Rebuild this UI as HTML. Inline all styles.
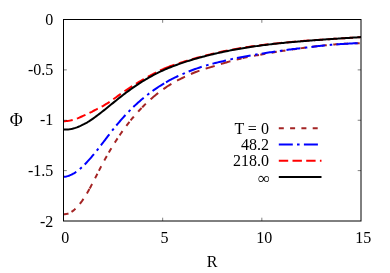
<!DOCTYPE html>
<html><head><meta charset="utf-8"><style>
html,body{margin:0;padding:0;background:#fff;}
svg{display:block;will-change:transform;}
text{font-family:"Liberation Serif",serif;font-size:16px;fill:#000;}
</style></head><body>
<svg width="390" height="273" viewBox="0 0 390 273">
<rect width="390" height="273" fill="#fff"/>
<g fill="none" stroke-width="2" stroke-linecap="butt" stroke-linejoin="round">
<path d="M63.50,214.26L64.77,214.26L66.04,214.11L67.28,213.83L68.49,213.43M71.50,211.89L72.56,211.19L73.57,210.41L74.54,209.59L75.50,208.74M79.85,203.92L80.60,202.94L81.35,201.96L82.07,200.96L82.78,199.95L83.47,198.93M86.92,193.42L87.57,192.32L88.20,191.21L88.83,190.11L89.44,188.99M89.70,188.52L90.31,187.40L90.91,186.28L91.51,185.15L92.11,184.03M95.09,178.25L95.67,177.11L96.25,175.98L96.83,174.84L97.40,173.70M98.90,170.77L99.48,169.64L100.07,168.50L100.65,167.37L101.24,166.24M104.31,160.51L104.92,159.39L105.54,158.27L106.16,157.16L106.78,156.05M108.80,152.54L109.44,151.43L110.09,150.34L110.74,149.24L111.40,148.15M114.82,142.62L115.50,141.54L116.19,140.47L116.89,139.40L117.59,138.34M119.60,135.34L120.32,134.29L121.05,133.24L121.77,132.19L122.51,131.15M126.35,125.91L127.12,124.90L127.90,123.88L128.68,122.88L129.47,121.88M130.60,120.46L131.41,119.48L132.21,118.49L133.03,117.51L133.85,116.54M138.14,111.66L139.01,110.72L139.88,109.78L140.75,108.86L141.63,107.94M142.20,107.36L143.09,106.44L143.99,105.54L144.90,104.65L145.81,103.76M150.58,99.34L151.64,98.40L152.71,97.48L153.78,96.57L154.86,95.66L155.96,94.77L157.06,93.89L158.17,93.01M163.38,89.13L164.50,88.34L165.63,87.56L166.77,86.79L167.92,86.03L169.07,85.29L170.23,84.55L171.40,83.83M177.06,80.64L178.37,79.96L179.69,79.30L181.01,78.64L182.33,77.99L183.66,77.35L184.99,76.71M190.91,74.03L192.12,73.52L193.33,73.01L194.55,72.52L195.77,72.03L197.00,71.56L198.23,71.09L199.46,70.63M205.65,68.64L206.94,68.27L208.23,67.90L209.53,67.53L210.82,67.15L212.11,66.76L213.39,66.36L214.68,65.97M220.89,64.05L222.24,63.63L223.60,63.23L224.96,62.82L226.32,62.43L227.68,62.04L229.04,61.66L230.41,61.29M236.69,59.62L237.93,59.31L239.16,58.99L240.40,58.69L241.64,58.38M242.60,58.16L243.84,57.87L245.09,57.59L246.33,57.32L247.58,57.06M253.97,55.84L255.22,55.62L256.48,55.39L257.73,55.16L258.98,54.93M260.30,54.69L261.55,54.46L262.81,54.23L264.06,54.00L265.32,53.77M271.72,52.65L272.98,52.44L274.23,52.23L275.49,52.02L276.75,51.81M280.40,51.23L281.66,51.03L282.92,50.83L284.18,50.64L285.44,50.44M291.87,49.49L293.13,49.31L294.39,49.14L295.66,48.96L296.92,48.78M300.50,48.30L301.76,48.13L303.03,47.96L304.29,47.79L305.56,47.63M312.00,46.79L313.27,46.64L314.53,46.48L315.80,46.33L317.06,46.18M321.70,45.65L322.97,45.51L324.24,45.38L325.50,45.25L326.77,45.13M333.25,44.57L334.52,44.47L335.79,44.37L337.06,44.28L338.33,44.19M343.00,43.88L344.27,43.81L345.55,43.74L346.82,43.67L348.09,43.60M354.59,43.32L355.86,43.27L357.13,43.23L358.41,43.20L359.68,43.16" stroke="#a42424"/>
<path d="M63.50,176.79L64.89,176.67L66.26,176.45L67.61,176.12L68.93,175.70L70.23,175.19L71.49,174.62L72.73,173.99L73.94,173.30L75.11,172.56L76.26,171.77M79.82,169.02L80.80,168.17L81.76,167.30M84.72,164.46L85.69,163.47L86.65,162.46L87.60,161.44L88.53,160.41L89.46,159.38L90.38,158.33L91.28,157.28L92.18,156.22L93.07,155.15L93.96,154.08M96.79,150.58L97.59,149.56L98.40,148.54M100.92,145.30L101.76,144.20L102.61,143.10L103.46,142.00L104.30,140.89L105.15,139.79L105.99,138.69L106.83,137.58L107.68,136.48L108.53,135.38L109.38,134.27M112.14,130.72L112.94,129.70L113.75,128.68M116.33,125.49L117.21,124.42L118.10,123.35L119.00,122.29L119.90,121.24L120.81,120.19L121.73,119.14L122.65,118.10L123.58,117.07L124.52,116.04L125.46,115.02M128.56,111.76L129.47,110.83L130.39,109.91M133.31,107.03L134.32,106.08L135.33,105.12L136.35,104.18L137.38,103.24L138.41,102.31L139.45,101.39L140.50,100.48L141.56,99.58L142.62,98.68L143.69,97.79M147.20,94.98L148.23,94.18L149.26,93.40M152.57,90.96L153.70,90.16L154.84,89.36L155.98,88.58L157.14,87.80L158.30,87.03L159.46,86.27L160.63,85.53L161.81,84.79L163.00,84.06L164.19,83.34M166.00,82.28L167.21,81.58L168.42,80.90L169.63,80.23L170.86,79.57L172.09,78.93L173.33,78.30L174.58,77.69L175.83,77.09L177.10,76.51L178.36,75.94M182.49,74.14L183.68,73.63L184.88,73.11M188.66,71.54L189.95,71.03L191.25,70.52L192.55,70.02L193.85,69.54L195.15,69.06L196.46,68.59L197.78,68.13L199.09,67.68L200.41,67.24L201.73,66.81M206.04,65.50L207.29,65.15L208.54,64.80M212.50,63.75L213.85,63.40L215.20,63.07L216.55,62.73L217.90,62.40L219.25,62.08L220.60,61.75L221.95,61.42L223.30,61.10L224.65,60.77L226.00,60.45M230.38,59.42L231.65,59.13L232.92,58.85M236.93,57.99L238.29,57.72L239.66,57.46L241.03,57.20L242.39,56.95L243.76,56.71L245.13,56.46L246.50,56.22L247.87,55.98L249.24,55.75L250.61,55.51M255.04,54.76L256.33,54.54L257.61,54.33M261.65,53.67L263.03,53.44L264.40,53.22L265.77,53.01L267.14,52.79L268.52,52.57L269.89,52.36L271.27,52.15L272.64,51.94L274.01,51.73L275.39,51.53M279.84,50.87L281.13,50.69L282.41,50.51M286.48,49.96L287.86,49.78L289.24,49.61L290.61,49.43L291.99,49.26L293.37,49.09L294.75,48.92L296.13,48.76L297.51,48.59L298.89,48.42L300.27,48.25M304.74,47.71L306.03,47.55L307.32,47.39M311.39,46.90L312.77,46.74L314.15,46.57L315.53,46.41L316.91,46.26L318.29,46.10L319.68,45.95L321.06,45.80L322.44,45.65L323.82,45.51L325.21,45.37M329.69,44.96L330.98,44.85L332.28,44.74M336.37,44.42L337.79,44.31L339.21,44.21L340.63,44.11L342.06,44.01L343.48,43.92L344.91,43.83L346.33,43.74L347.75,43.66L349.18,43.58L350.60,43.50L352.03,43.43L353.45,43.37L354.88,43.30L356.31,43.24L357.73,43.19" stroke="#0000ff"/>
<path d="M63.50,121.16L64.83,121.14L66.15,121.07L67.48,120.93L68.79,120.75L70.10,120.52L71.40,120.24L72.69,119.92M76.92,118.56L78.16,118.08L79.39,117.57L80.61,117.04L81.82,116.49L83.03,115.95L84.24,115.41L85.46,114.86M89.48,112.97L90.67,112.38L91.86,111.78L93.02,111.14L94.19,110.50L95.36,109.87L96.55,109.29L97.75,108.72M101.70,106.66L102.85,106.01L104.01,105.35L105.15,104.67L106.29,103.98L107.41,103.28L108.53,102.56L109.63,101.82M113.28,99.27L114.36,98.49L115.43,97.72L116.51,96.94L117.59,96.16L118.67,95.38L119.75,94.61L120.83,93.84M124.48,91.29L125.57,90.54L126.67,89.80L127.78,89.05L128.88,88.32L129.99,87.58L131.10,86.85L132.21,86.12M135.97,83.75L137.10,83.05L138.24,82.36L139.38,81.68L140.52,81.00L141.67,80.33L142.82,79.67L143.97,79.01M147.85,76.83L149.01,76.18L150.18,75.54L151.35,74.91L152.52,74.28L153.69,73.66L154.87,73.05L156.05,72.44M160.05,70.48L161.33,69.88L162.62,69.29L163.92,68.71L165.22,68.15L166.53,67.61L167.85,67.08L169.17,66.56L170.49,66.06L171.83,65.59L173.17,65.13L174.52,64.69M178.77,63.35L180.03,62.95L181.30,62.54L182.56,62.13L183.82,61.72L185.09,61.32L186.36,60.92L187.63,60.53M191.89,59.26L193.17,58.89L194.44,58.52L195.72,58.17L197.00,57.81L198.29,57.46L199.57,57.11L200.85,56.77M205.16,55.65L206.44,55.32L207.73,54.99L209.02,54.67L210.31,54.35L211.60,54.04L212.89,53.73L214.19,53.42M218.52,52.42L219.82,52.13L221.12,51.84L222.41,51.56L223.71,51.28L225.01,51.01L226.32,50.74L227.62,50.48M231.99,49.63L233.29,49.39L234.60,49.15L235.91,48.91L237.22,48.68L238.52,48.46L239.83,48.23L241.14,48.01M245.54,47.31L246.85,47.11L248.17,46.91L249.48,46.72L250.79,46.53L252.11,46.34L253.43,46.16L254.74,45.98M259.16,45.40L260.47,45.24L261.79,45.08L263.11,44.92L264.43,44.76L265.75,44.61L267.07,44.45L268.39,44.30M272.81,43.81L274.13,43.67L275.45,43.52L276.77,43.38L278.10,43.24L279.42,43.10L280.74,42.97L282.06,42.83M286.49,42.39L287.81,42.26L289.13,42.14L290.46,42.02L291.78,41.90L293.10,41.78L294.43,41.66L295.75,41.54M300.18,41.17L301.51,41.06L302.83,40.96L304.16,40.86L305.48,40.76L306.81,40.66L308.13,40.57L309.46,40.47M313.90,40.17L315.22,40.09L316.55,40.00L317.88,39.92L319.20,39.83L320.53,39.75L321.85,39.66L323.18,39.58M327.62,39.29L328.94,39.20L330.27,39.11L331.60,39.02L332.92,38.93L334.25,38.84L335.57,38.75L336.90,38.67M341.34,38.38L342.81,38.29L344.29,38.20L345.76,38.10L347.24,38.01L348.71,37.91L350.18,37.82L351.66,37.73L353.13,37.63M357.57,37.34L358.71,37.27L359.86,37.19L361.00,37.12" stroke="#ff0000"/>
<path d="M63.50,129.46 L64.99,129.52 L66.49,129.50 L67.98,129.40 L69.48,129.23 L70.97,128.98 L72.47,128.67 L73.96,128.28 L75.46,127.84 L76.95,127.33 L78.45,126.76 L79.94,126.13 L81.44,125.45 L82.93,124.72 L84.43,123.95 L85.92,123.13 L87.42,122.26 L88.91,121.35 L90.41,120.38 L91.90,119.37 L93.40,118.33 L94.89,117.25 L96.39,116.15 L97.88,115.02 L99.38,113.88 L100.87,112.72 L102.37,111.55 L103.86,110.36 L105.36,109.16 L106.85,107.96 L108.35,106.75 L109.84,105.54 L111.34,104.32 L112.83,103.11 L114.33,101.89 L115.82,100.69 L117.32,99.49 L118.81,98.30 L120.31,97.12 L121.80,95.95 L123.30,94.80 L124.79,93.66 L126.29,92.53 L127.78,91.42 L129.28,90.33 L130.77,89.25 L132.27,88.19 L133.76,87.15 L135.26,86.12 L136.75,85.11 L138.25,84.12 L139.74,83.16 L141.24,82.21 L142.73,81.27 L144.23,80.36 L145.72,79.46 L147.22,78.58 L148.71,77.72 L150.21,76.87 L151.70,76.05 L153.20,75.24 L154.69,74.45 L156.19,73.68 L157.68,72.92 L159.18,72.19 L160.67,71.46 L162.17,70.76 L163.66,70.09 L165.16,69.43 L166.65,68.78 L168.15,68.16 L169.64,67.55 L171.14,66.96 L172.63,66.38 L174.13,65.81 L175.62,65.26 L177.12,64.71 L178.61,64.17 L180.11,63.64 L181.60,63.12 L183.10,62.61 L184.59,62.11 L186.09,61.63 L187.58,61.15 L189.08,60.68 L190.57,60.22 L192.07,59.77 L193.56,59.32 L195.06,58.89 L196.55,58.46 L198.05,58.04 L199.54,57.62 L201.04,57.21 L202.53,56.81 L204.03,56.42 L205.52,56.03 L207.02,55.65 L208.51,55.27 L210.01,54.90 L211.50,54.54 L213.00,54.18 L214.49,53.83 L215.99,53.48 L217.48,53.14 L218.98,52.81 L220.47,52.48 L221.97,52.16 L223.46,51.84 L224.96,51.53 L226.45,51.22 L227.95,50.92 L229.44,50.62 L230.94,50.33 L232.43,50.05 L233.93,49.77 L235.42,49.49 L236.92,49.22 L238.41,48.95 L239.91,48.69 L241.40,48.44 L242.90,48.19 L244.39,47.94 L245.89,47.70 L247.38,47.46 L248.88,47.22 L250.37,47.00 L251.87,46.77 L253.36,46.55 L254.86,46.33 L256.35,46.12 L257.85,45.91 L259.34,45.71 L260.84,45.51 L262.33,45.31 L263.83,45.12 L265.32,44.93 L266.82,44.74 L268.31,44.56 L269.81,44.38 L271.30,44.20 L272.80,44.03 L274.29,43.86 L275.79,43.69 L277.28,43.53 L278.78,43.37 L280.27,43.21 L281.77,43.06 L283.26,42.91 L284.76,42.76 L286.25,42.61 L287.75,42.47 L289.24,42.33 L290.74,42.19 L292.23,42.05 L293.73,41.92 L295.22,41.79 L296.72,41.66 L298.21,41.53 L299.71,41.41 L301.20,41.29 L302.70,41.16 L304.19,41.04 L305.69,40.92 L307.18,40.80 L308.68,40.69 L310.17,40.57 L311.67,40.45 L313.16,40.34 L314.66,40.23 L316.15,40.11 L317.65,40.00 L319.14,39.89 L320.64,39.78 L322.13,39.68 L323.63,39.57 L325.12,39.46 L326.62,39.36 L328.11,39.26 L329.61,39.15 L331.10,39.05 L332.60,38.95 L334.09,38.85 L335.59,38.75 L337.08,38.66 L338.58,38.56 L340.07,38.46 L341.57,38.37 L343.06,38.27 L344.56,38.18 L346.05,38.08 L347.55,37.99 L349.04,37.89 L350.54,37.80 L352.03,37.70 L353.53,37.61 L355.02,37.51 L356.52,37.41 L358.01,37.31 L359.51,37.22 L361.00,37.12" stroke="#000"/>
<path d="M278.8,128.2H321.5" stroke="#a42424" stroke-dasharray="5 6.3"/>
<path d="M278.8,144.5H321.5" stroke="#0000ff" stroke-dasharray="14 4.2 2.6 4.3"/>
<path d="M278.8,160.8H321.5" stroke="#ff0000" stroke-dasharray="9.4 4.3"/>
<path d="M278.8,176.9H321.5" stroke="#000"/>
</g>
<g fill="none" stroke="#000" stroke-width="1">
<rect x="63.5" y="19.5" width="297.5" height="201.5"/>
<path stroke-width="0.5" d="M63.5,69.88h3.3M361.0,69.88h-3.3"/>
<path stroke-width="0.5" d="M63.5,120.25h3.3M361.0,120.25h-3.3"/>
<path stroke-width="0.5" d="M63.5,170.62h3.3M361.0,170.62h-3.3"/>
<path stroke-width="0.5" d="M162.67,221.0v-3.3M162.67,19.5v3.3"/>
<path stroke-width="0.5" d="M261.83,221.0v-3.3M261.83,19.5v3.3"/>
</g>
<text x="53.3" y="25.10" text-anchor="end">0</text>
<text x="53.3" y="75.47" text-anchor="end">-0.5</text>
<text x="53.3" y="125.45" text-anchor="end">-1</text>
<text x="53.3" y="176.22" text-anchor="end">-1.5</text>
<text x="53.3" y="226.60" text-anchor="end">-2</text>
<text x="65.30" y="243" text-anchor="middle">0</text>
<text x="164.47" y="243" text-anchor="middle">5</text>
<text x="264.23" y="243" text-anchor="middle">10</text>
<text x="363.30" y="243" text-anchor="middle">15</text>
<text x="212" y="267" text-anchor="middle">R</text>
<text x="16.15" y="126.2" text-anchor="middle" style="font-size:17.8px">&#934;</text>
<text x="268.9" y="133.50" text-anchor="end">T = 0</text>
<text x="268.9" y="149.80" text-anchor="end">48.2</text>
<text x="268.9" y="166.10" text-anchor="end">218.0</text>
<text x="270" y="183.5" text-anchor="end" style="font-size:17px">&#8734;</text>
</svg></body></html>
